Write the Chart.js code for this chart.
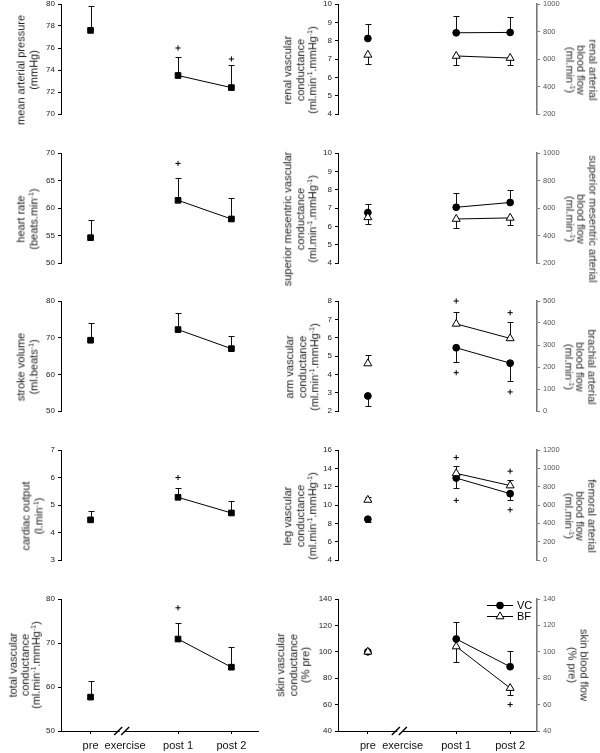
<!DOCTYPE html>
<html>
<head>
<meta charset="utf-8">
<script src="https://cdn.jsdelivr.net/npm/chart.js@4.4.0/dist/chart.umd.min.js"></script>
<style>
  body { margin: 0; background: #fff; width: 600px; height: 753px; overflow: hidden; position: relative;
         font-family: "Liberation Sans", Arial, sans-serif; }
  canvas { position: absolute; }
  .ttl { position: absolute; white-space: nowrap; text-align: center; font-size: 11px; line-height: 12.5px; color: #1a1a1a; }
  .ttl.r { color: #2a2a2a; line-height: 11.5px; }
  .ttl sup { font-size: 7px; line-height: 0; vertical-align: 4px; }
</style>
</head>
<body>
<script>
/* Ten small panels: haemodynamics before and after exercise. */

// x positions (linear scale 0..10) of the time points
const xPre = 1.5, xBreak = 3.08, xExercise = 3.25, xPost1 = 5.94, xPost2 = 8.65;
const timeX = [xPre, xPost1, xPost2];
const xTickValues = [xPre, xExercise, xPost1, xPost2];
const xTickLabels = ['pre', 'exercise', 'post 1', 'post 2'];

// left column: mean, end of error bar, "+" marks  (pre, post 1, post 2)
const mapRange = [70, 80, 2];
const mapMean = [77.6, 73.5, 72.4];
const mapErr = [79.85, 75.2, 74.45];
const mapPlus = [null, 76.0, 75.0];

const hrRange = [50, 70, 5];
const hrMean = [54.6, 61.4, 58.0];
const hrErr = [57.85, 65.5, 61.75];
const hrPlus = [null, 68.1, null];

const svRange = [50, 80, 10];
const svMean = [69.3, 72.2, 67.0];
const svErr = [74.1, 76.8, 70.5];
const svPlus = [null, null, null];

const coRange = [3, 7, 1];
const coMean = [4.46, 5.28, 4.71];
const coErr = [4.79, 5.61, 5.16];
const coPlus = [null, 6.0, null];

const tvcRange = [50, 80, 10];
const tvcMean = [57.7, 70.9, 64.5];
const tvcErr = [61.4, 74.5, 69.2];
const tvcPlus = [null, 78.0, null];

// right column: vascular conductance (VC, left axis), blood flow (BF, right axis)
const renalVCRange = [4, 10, 1], renalBFRange = [200, 1000, 200];
const renalVC = [8.12, 8.43, 8.45];
const renalVCErr = [8.89, 9.32, 9.30];
const renalBF = [630, 622, 607];
const renalBFErr = [563, 554, 558];

const smaVCRange = [4, 10, 1], smaBFRange = [200, 1000, 200];
const smaVC = [6.75, 7.04, 7.3];
const smaVCErr = [7.23, 7.83, 7.98];
const smaBF = [532, 520, 528];
const smaBFErr = [481, 457, 477];

const armVCRange = [2, 8, 1], armBFRange = [0, 500, 100];
const armVC = [2.82, 5.45, 4.61];
const armVCErr = [2.28, 4.68, 3.65];
const armVCPlus = [null, 4.09, 3.04];
const armBF = [216, 396, 330];
const armBFErr = [255, 450, 405];
const armBFPlus = [null, 500, 447];

const legVCRange = [4, 16, 2], legBFRange = [0, 1200, 200];
const legVC = [8.45, 12.94, 11.24];
const legVCErr = [8.15, 11.85, 10.6];
const legVCPlus = [null, 10.5, 9.48];
const legBF = [655, 945, 812];
const legBFErr = [691, 1027, 870];
const legBFPlus = [null, 1118, 969];

const skinVCRange = [40, 140, 20], skinBFRange = [40, 140, 20];
const skinVC = [100, 109.7, 88.7];
const skinVCErr = [null, 122.4, 100.6];
const skinBF = [100, 104, 72.5];
const skinBFErr = [null, 92.5, 67.3];
const skinBFPlus = [null, null, 60];

const FONT = '"Liberation Sans", Arial, sans-serif';
const rowTop = [4, 153, 301, 450, 599];
const plotH = 132;
const MIN1 = '<sup>-1</sup>';

function seriesPoints(vals) {
  return [{ x: xPre, y: vals[0] }, { x: xBreak, y: null }, { x: xPost1, y: vals[1] }, { x: xPost2, y: vals[2] }];
}
function plusPoints(vals) {
  return timeX.map((x, i) => ({ x, y: vals[i] })).filter(p => p.y !== null);
}

// vertical error bar from the mean to the given end, with a cap
const errorBars = {
  id: 'errorBars',
  beforeDatasetsDraw(chart) {
    const ctx = chart.ctx;
    const xs = chart.scales.x;
    chart.data.datasets.forEach(ds => {
      if (!ds.errEnds) return;
      const ys = chart.scales[ds.yAxisID];
      ctx.save();
      ctx.strokeStyle = '#111';
      ctx.lineWidth = 1;
      ds.means.forEach((v, i) => {
        const e = ds.errEnds[i];
        if (v == null || e == null) return;
        const px = Math.round(xs.getPixelForValue(timeX[i])) + 0.5;
        const py = ys.getPixelForValue(v);
        const pe = Math.round(ys.getPixelForValue(e)) + 0.5;
        ctx.beginPath();
        ctx.moveTo(px, py); ctx.lineTo(px, pe);
        ctx.moveTo(px - 3, pe); ctx.lineTo(px + 3, pe);
        ctx.stroke();
      });
      ctx.restore();
    });
  }
};

// the "//" break on the x axis under "exercise"
const axisBreak = {
  id: 'axisBreak',
  afterDraw(chart) {
    const ctx = chart.ctx;
    const x = chart.scales.x.getPixelForValue(xBreak);
    const y = chart.chartArea.bottom;
    ctx.save();
    ctx.fillStyle = '#fff';
    ctx.fillRect(x - 2, y - 2, 5, 4);
    ctx.strokeStyle = '#000';
    ctx.lineWidth = 1.4;
    [-3.5, 3.5].forEach(dx => {
      ctx.beginPath();
      ctx.moveTo(x + dx - 4, y + 4);
      ctx.lineTo(x + dx + 4, y - 4);
      ctx.stroke();
    });
    ctx.restore();
  }
};

// VC / BF key in the skin panel
const skinLegend = {
  id: 'skinLegend',
  afterDatasetsDraw(chart) {
    const { ctx, chartArea } = chart;
    const keys = [{ label: 'VC', ds: chart.data.datasets[0] }, { label: 'BF', ds: chart.data.datasets[1] }];
    keys.forEach((k, i) => {
      const y = chartArea.top + 6.5 + i * 11;
      const x0 = chartArea.right - 50, x1 = chartArea.right - 24;
      ctx.save();
      ctx.strokeStyle = '#000';
      ctx.lineWidth = 1;
      ctx.beginPath(); ctx.moveTo(x0, y); ctx.lineTo(x1, y); ctx.stroke();
      ctx.fillStyle = k.ds.pointBackgroundColor;
      Chart.helpers.drawPoint(ctx, { pointStyle: k.ds.pointStyle, radius: k.ds.pointRadius, borderWidth: 1, rotation: 0 }, (x0 + x1) / 2, y);
      ctx.fillStyle = '#000';
      ctx.font = '11px ' + FONT;
      ctx.textBaseline = 'middle';
      ctx.fillText(k.label, x1 + 4, y + 0.5);
      ctx.restore();
    });
  }
};

function xAxis(show) {
  return {
    type: 'linear', min: 0, max: 10, display: show,
    afterBuildTicks: s => { s.ticks = xTickValues.map(v => ({ value: v })); },
    afterFit: s => { s.height = 22; },
    ticks: { autoSkip: false, maxRotation: 0, padding: 5, color: '#111', font: { family: FONT, size: 11 },
             callback: (v, i) => xTickLabels[i] },
    grid: { drawOnChartArea: false, tickLength: 3,
            color: c => (c.tick && c.tick.value === xExercise) ? 'rgba(0,0,0,0)' : '#000' },
    border: { color: '#000', width: 1 }
  };
}

function yAxis(range, side, width) {
  const left = side === 'left';
  return {
    type: 'linear', position: side, min: range[0], max: range[1],
    afterFit: s => { s.width = width; },
    ticks: { stepSize: range[2], padding: 3, color: left ? '#222' : '#555',
             font: { family: FONT, size: left ? 8 : 7.5 }, callback: v => String(v) },
    grid: { drawOnChartArea: false, tickLength: 3, color: left ? '#000' : '#777' },
    border: { color: left ? '#000' : '#777', width: left ? 1 : 1.6 }
  };
}

function lineSet(vals, errs, axis, style) {
  return Object.assign({
    data: seriesPoints(vals), means: vals, errEnds: errs, yAxisID: axis,
    borderColor: '#000', borderWidth: 1, pointBorderColor: '#000', pointBorderWidth: 1,
    spanGaps: false, clip: false
  }, style);
}
function plusSet(vals, axis) {
  return {
    data: plusPoints(vals), yAxisID: axis, showLine: false, clip: false,
    pointStyle: 'cross', pointRadius: 2.6, pointBorderColor: '#000', pointBorderWidth: 1
  };
}

const SQUARE = { pointStyle: 'rect', pointRadius: 4, pointBackgroundColor: '#000' };
const CIRCLE = { pointStyle: 'circle', pointRadius: 3.4, pointBackgroundColor: '#000', order: 1 };
const TRIANGLE = { pointStyle: 'triangle', pointRadius: 4.6, pointBackgroundColor: '#fff', order: 0 };

const leftPanels = [
  { title: ['mean arterial pressure', '(mmHg)'], tx: 26.5, range: mapRange, mean: mapMean, err: mapErr, plus: mapPlus },
  { title: ['heart rate', '(beats.min' + MIN1 + ')'], tx: 26.5, range: hrRange, mean: hrMean, err: hrErr, plus: hrPlus },
  { title: ['stroke volume', '(ml.beats' + MIN1 + ')'], tx: 26.5, range: svRange, mean: svMean, err: svErr, plus: svPlus },
  { title: ['cardiac output', '(l.min' + MIN1 + ')'], tx: 31.5, range: coRange, mean: coMean, err: coErr, plus: coPlus },
  { title: ['total vascular', 'conductance', '(ml.min' + MIN1 + '.mmHg' + MIN1 + ')'], tx: 25, lh: 11.5, range: tvcRange, mean: tvcMean, err: tvcErr, plus: tvcPlus }
];

const rightPanels = [
  { title: ['renal vascular', 'conductance', '(ml.min' + MIN1 + '.mmHg' + MIN1 + ')'], tx: 300,
    title2: ['renal arterial', 'blood flow', '(ml.min' + MIN1 + ')'], tx2: 581,
    vcRange: renalVCRange, bfRange: renalBFRange, vc: renalVC, vcErr: renalVCErr, bf: renalBF, bfErr: renalBFErr },
  { title: ['superior mesentric vascular', 'conductance', '(ml.min' + MIN1 + '.mmHg' + MIN1 + ')'], tx: 300,
    title2: ['superior mesentric arterial', 'blood flow', '(ml.min' + MIN1 + ')'], tx2: 581,
    vcRange: smaVCRange, bfRange: smaBFRange, vc: smaVC, vcErr: smaVCErr, bf: smaBF, bfErr: smaBFErr },
  { title: ['arm vascular', 'conductance', '(ml.min' + MIN1 + '.mmHg' + MIN1 + ')'], tx: 302,
    title2: ['brachial arterial', 'blood flow', '(ml.min' + MIN1 + ')'], tx2: 580,
    vcRange: armVCRange, bfRange: armBFRange, vc: armVC, vcErr: armVCErr, bf: armBF, bfErr: armBFErr,
    vcPlus: armVCPlus, bfPlus: armBFPlus },
  { title: ['leg vascular', 'conductance', '(ml.min' + MIN1 + '.mmHg' + MIN1 + ')'], tx: 300,
    title2: ['femoral arterial', 'blood flow', '(ml.min' + MIN1 + ')'], tx2: 580,
    vcRange: legVCRange, bfRange: legBFRange, vc: legVC, vcErr: legVCErr, bf: legBF, bfErr: legBFErr,
    vcPlus: legVCPlus, bfPlus: legBFPlus },
  { title: ['skin vascular', 'conductance', '(% pre)'], tx: 293,
    title2: ['skin blood flow', '(% pre)'], tx2: 577.5,
    vcRange: skinVCRange, bfRange: skinBFRange, vc: skinVC, vcErr: skinVCErr, bf: skinBF, bfErr: skinBFErr,
    bfPlus: skinBFPlus }
];

function addTitle(lines, cx, cy, deg, lh) {
  const d = document.createElement('div');
  d.className = deg > 0 ? 'ttl r' : 'ttl';
  d.innerHTML = lines.join('<br>');
  d.style.left = cx + 'px';
  d.style.top = cy + 'px';
  if (lh) d.style.lineHeight = lh + 'px';
  d.style.transform = `translate(-50%,-50%) rotate(${deg}deg)`;
  document.body.appendChild(d);
}

function addCanvas(left, top, w, h) {
  const c = document.createElement('canvas');
  c.width = w; c.height = h;
  c.style.left = left + 'px'; c.style.top = top + 'px';
  c.style.width = w + 'px'; c.style.height = h + 'px';
  document.body.appendChild(c);
  return c;
}

function baseOptions(last, padRight, scales) {
  return {
    responsive: false, animation: false, devicePixelRatio: 1,
    layout: { padding: { top: 8, bottom: last ? 0 : 8, left: 0, right: padRight } },
    plugins: { legend: { display: false }, tooltip: { enabled: false } },
    scales
  };
}

leftPanels.forEach((p, r) => {
  const last = r === 4;
  const top = rowTop[r] - 8;
  const cv = addCanvas(0, top, 270, last ? 753 - top : plotH + 16);
  const datasets = [
    lineSet(p.mean, p.err, 'y', SQUARE),
    plusSet(p.plus, 'y')
  ];
  new Chart(cv, {
    type: 'line',
    data: { datasets },
    options: baseOptions(last, 12, { x: xAxis(last), y: yAxis(p.range, 'left', 61) }),
    plugins: last ? [errorBars, axisBreak] : [errorBars]
  });
  addTitle(p.title, p.tx, rowTop[r] + plotH / 2, -90, p.lh);
});

rightPanels.forEach((p, r) => {
  const last = r === 4;
  const top = rowTop[r] - 8;
  const cv = addCanvas(270, top, 330, last ? 753 - top : plotH + 16);
  const datasets = [
    lineSet(p.vc, p.vcErr, 'y', CIRCLE),
    lineSet(p.bf, p.bfErr, 'y2', TRIANGLE)
  ];
  if (p.vcPlus) datasets.push(plusSet(p.vcPlus, 'y'));
  if (p.bfPlus) datasets.push(plusSet(p.bfPlus, 'y2'));
  const plugins = [errorBars];
  if (last) plugins.push(axisBreak, skinLegend);
  new Chart(cv, {
    type: 'line',
    data: { datasets },
    options: baseOptions(last, 0, { x: xAxis(last), y: yAxis(p.vcRange, 'left', 68), y2: yAxis(p.bfRange, 'right', 63) }),
    plugins
  });
  addTitle(p.title, p.tx, rowTop[r] + plotH / 2, -90);
  addTitle(p.title2, p.tx2, rowTop[r] + plotH / 2, 90);
});
</script>
</body>
</html>
